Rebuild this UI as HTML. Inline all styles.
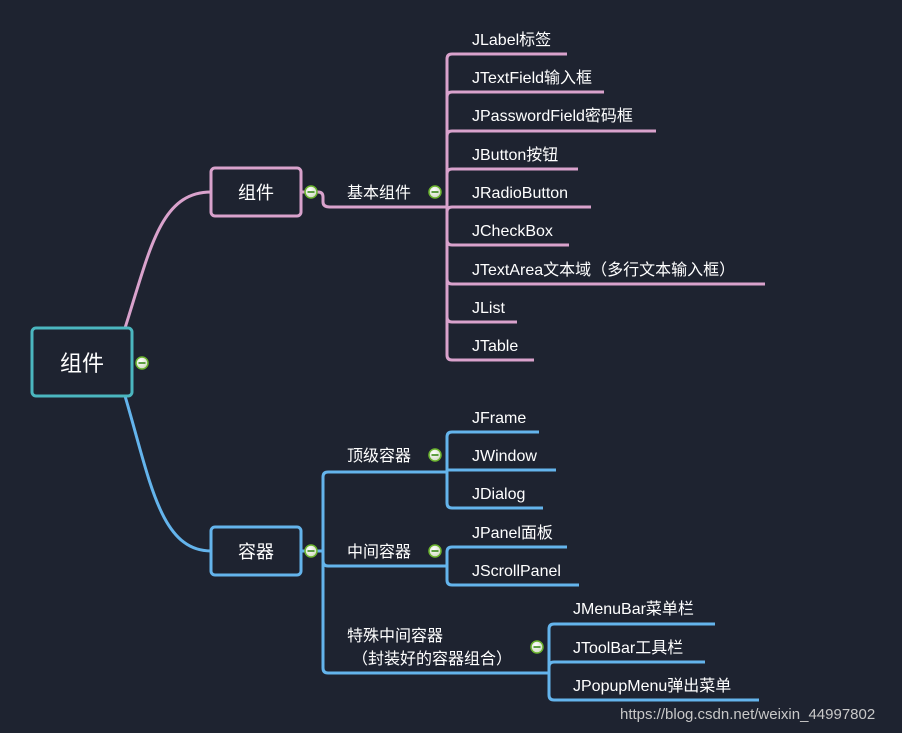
<!DOCTYPE html>
<html><head><meta charset="utf-8"><style>
html,body{margin:0;padding:0;background:#1e2330;}
svg{display:block}
text{font-family:"Liberation Sans","Noto Sans CJK SC",sans-serif;fill:#ffffff;font-size:16px}
</style></head><body>
<svg width="902" height="733" viewBox="0 0 902 733" xmlns="http://www.w3.org/2000/svg">
<defs>
<radialGradient id="g" cx="40%" cy="35%" r="70%"><stop offset="0" stop-color="#ffffff"/><stop offset="1" stop-color="#cfd8c0"/></radialGradient>
<g id="m"><circle r="6" fill="url(#g)" stroke="#6cb52f" stroke-width="1.5"/><line x1="-3.5" y1="0" x2="3.5" y2="0" stroke="#3a8a1a" stroke-width="1.6"/></g>
</defs>
<rect width="902" height="733" fill="#1e2330"/>
<g fill="none" stroke-width="3" stroke-linecap="butt">
<!-- root curves -->
<path d="M125 328 C150 250,160 192,211 192" stroke="#d9a2cc"/>
<path d="M125 396 C150 480,160 551,211 551" stroke="#64b4ec"/>
<!-- pink -->
<path d="M302 192 H318 Q323 192 323 197 V202 Q323 207 330 207 H447" stroke="#d9a2cc"/>
<g stroke="#d9a2cc">
<path d="M447 207 V59 Q447 54 452 54 H567"/>
<path d="M447 97 Q447 92 452 92 H604"/>
<path d="M447 136 Q447 131 452 131 H656"/>
<path d="M447 174 Q447 169 452 169 H578"/>
<path d="M447 212 Q447 207 452 207 H591"/>
<path d="M447 207 V355 Q447 360 452 360 H534"/>
<path d="M447 240 Q447 245 452 245 H569"/>
<path d="M447 279 Q447 284 452 284 H765"/>
<path d="M447 317 Q447 322 452 322 H517"/>
</g>
<!-- blue -->
<g stroke="#64b4ec">
<path d="M302 551 H323"/>
<path d="M447 472 H328 Q323 472 323 477 V668 Q323 673 328 673 H549"/>
<path d="M323 561 Q323 566 328 566 H447"/>
<path d="M447 472 V437 Q447 432 452 432 H539"/>
<path d="M447 470 H556"/>
<path d="M447 472 V503 Q447 508 452 508 H543"/>
<path d="M447 566 V552 Q447 547 452 547 H567"/>
<path d="M447 566 V580 Q447 585 452 585 H579"/>
<path d="M549 673 V629 Q549 624 554 624 H715"/>
<path d="M549 667 Q549 662 554 662 H705"/>
<path d="M549 673 V695 Q549 700 554 700 H759"/>
</g>
<!-- nodes -->
<rect x="32" y="328" width="100" height="68" rx="4" fill="#1e2330" stroke="#4bb6bf"/>
<rect x="211" y="168" width="90" height="48" rx="4" fill="#1e2330" stroke="#d9a2cc"/>
<rect x="211" y="527" width="90" height="48" rx="4" fill="#1e2330" stroke="#64b4ec"/>
</g>
<use href="#m" x="142" y="363"/>
<use href="#m" x="311" y="192"/>
<use href="#m" x="435" y="192"/>
<use href="#m" x="311" y="551"/>
<use href="#m" x="435" y="455"/>
<use href="#m" x="435" y="551"/>
<use href="#m" x="537" y="647"/>
<text x="82" y="371" text-anchor="middle" font-size="22" style="font-size:22px">组件</text>
<text x="256" y="199" text-anchor="middle" style="font-size:18px">组件</text>
<text x="256" y="558" text-anchor="middle" style="font-size:18px">容器</text>
<text x="347" y="198">基本组件</text>
<text x="472" y="45">JLabel标签</text>
<text x="472" y="83">JTextField输入框</text>
<text x="472" y="121">JPasswordField密码框</text>
<text x="472" y="160">JButton按钮</text>
<text x="472" y="198">JRadioButton</text>
<text x="472" y="236">JCheckBox</text>
<text x="472" y="275">JTextArea文本域（多行文本输入框）</text>
<text x="472" y="313">JList</text>
<text x="472" y="351">JTable</text>
<text x="347" y="461">顶级容器</text>
<text x="347" y="557">中间容器</text>
<text x="347" y="641">特殊中间容器</text>
<text x="352" y="664">（封装好的容器组合）</text>
<text x="472" y="423">JFrame</text>
<text x="472" y="461">JWindow</text>
<text x="472" y="499">JDialog</text>
<text x="472" y="538">JPanel面板</text>
<text x="472" y="576">JScrollPanel</text>
<text x="573" y="614">JMenuBar菜单栏</text>
<text x="573" y="653">JToolBar工具栏</text>
<text x="573" y="691">JPopupMenu弹出菜单</text>
<text x="620" y="719" style="font-size:15px;fill:#c8c8c8">https://blog.csdn.net/weixin_44997802</text>
</svg>
</body></html>
